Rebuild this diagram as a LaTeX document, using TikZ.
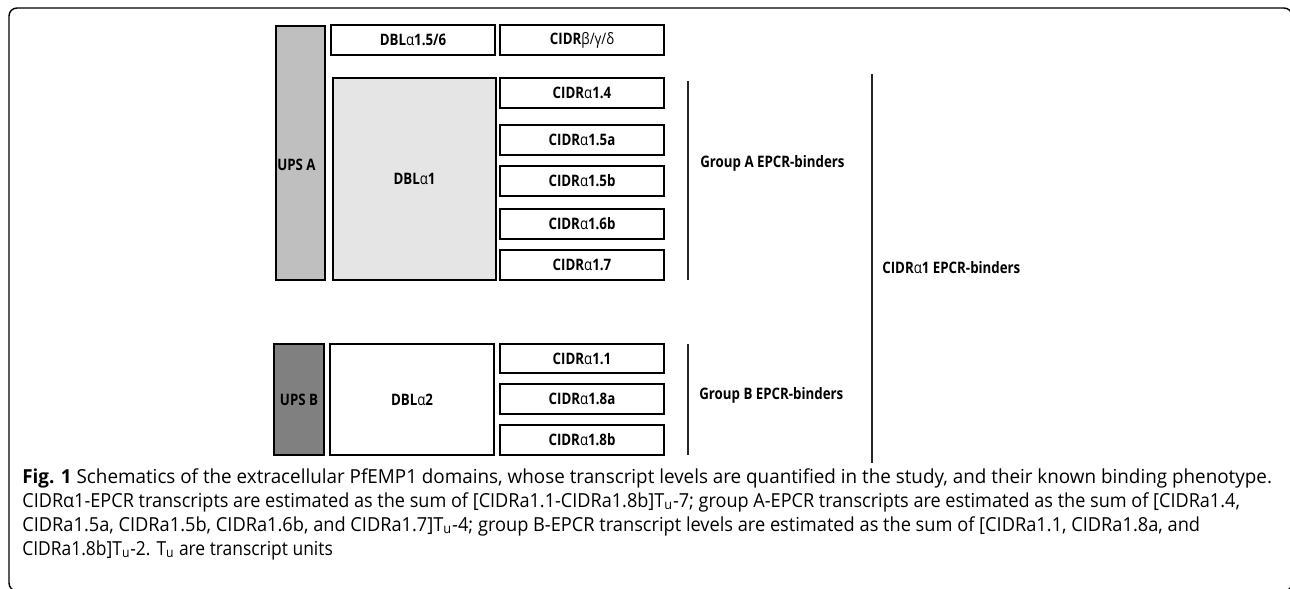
\documentclass[tikz,border=0pt]{standalone}
\usepackage{fontspec}
\setmainfont{Open Sans}
\newfontfamily\lblfont[FakeStretch=0.84]{Open Sans}
\newfontfamily\capfont[FakeStretch=0.975]{Open Sans}
\newcommand{\galpha}{{\mdseries α}}
\newcommand{\gbgd}{{\mdseries β/γ/δ}}
\tikzset{
	dom/.style={draw, line width=1.1pt, minimum width=3.28cm, minimum height=0.6cm, inner sep=0pt, font=\lblfont\fontsize{9}{11}\selectfont\bfseries},
	grp/.style={anchor=west, inner sep=0pt, font=\lblfont\fontsize{9}{11}\selectfont\bfseries},
	bracket/.style={line width=1.1pt, draw=black!85},
	capline/.style={anchor=base west, inner sep=0pt, font=\capfont\fontsize{11}{13}\selectfont}
}
\begin{document}
\begin{tikzpicture}[x=0.02cm, y=-0.02cm]
	\useasboundingbox (0,0) rectangle (1290,588);
	\draw[line width=0.8pt, rounded corners=0.16cm] (9,8) rectangle (1292,591);
	\coordinate (gAtop) at (688,81);
	\coordinate (gAbot) at (688,280);
	\coordinate (gBtop) at (688,344);
	\coordinate (gBbot) at (688,455);
	\coordinate (alltop) at (872,74);
	\coordinate (allbot) at (872,463);
	% group A
	\node[dom, fill=gray!50, minimum width=0.98cm, minimum height=5.08cm] (upsA) at (300.5,153) {};
	\node[grp] (upsAlabel) at (277,165) {UPS A};
	\node[dom] (dbl156) at (413,40) {DBL\galpha1.5/6};
	\node[dom] (cidrbgd) at (582,40) {CIDR\gbgd};
	\node[dom, fill=gray!20, minimum width=3.26cm, minimum height=4.04cm] (dblA) at (414.5,179) {DBL\galpha1};
	\node[dom] (cidr14) at (582,93) {CIDR\galpha1.4};
	\node[dom] (cidr15a) at (582,140) {CIDR\galpha1.5a};
	\node[dom] (cidr15b) at (582,181) {CIDR\galpha1.5b};
	\node[dom] (cidr16b) at (582,224) {CIDR\galpha1.6b};
	\node[dom] (cidr17) at (582,265) {CIDR\galpha1.7};
	% group B
	\node[dom, fill=gray, minimum width=1.0cm, minimum height=2.22cm] (upsB) at (299,399.5) {UPS B};
	\node[dom, minimum height=2.22cm] (dblB) at (412,399.5) {DBL\galpha2};
	\node[dom, minimum height=0.58cm] (cidr11) at (582,358.5) {CIDR\galpha1.1};
	\node[dom] (cidr18a) at (582,399) {CIDR\galpha1.8a};
	\node[dom] (cidr18b) at (582,440) {CIDR\galpha1.8b};
	% binders
	\draw[bracket] (gAtop) -- (gAbot);
	\draw[bracket] (gBtop) -- (gBbot);
	\draw[bracket] (alltop) -- (allbot);
	\node[grp] (grpA) at (700,163) {Group A EPCR-binders};
	\node[grp] (grpB) at (699,395) {Group B EPCR-binders};
	\node[grp] (grpall) at (882,268) {CIDR\galpha1 EPCR-binders};
	% caption
	\node[capline] (cap1) at (22,483) {\textbf{Fig. 1} Schematics of the extracellular PfEMP1 domains, whose transcript levels are quantified in the study, and their known binding phenotype.};
	\node[capline] (cap2) at (22,507) {\scalebox{0.96}[1]{CIDRα1-EPCR transcripts are estimated as the sum of [CIDRa1.1-CIDRa1.8b]T\textsubscript{u}-7; group A-EPCR transcripts are estimated as the sum of [CIDRa1.4,}};
	\node[capline] (cap3) at (22,531) {\scalebox{0.967}[1]{CIDRa1.5a, CIDRa1.5b, CIDRa1.6b, and CIDRa1.7]T\textsubscript{u}-4; group B-EPCR transcript levels are estimated as the sum of [CIDRa1.1, CIDRa1.8a, and}};
	\node[capline] (cap4) at (22,555) {\scalebox{0.925}[1]{CIDRa1.8b]T\textsubscript{u}-2. T\textsubscript{u} are transcript units}};
\end{tikzpicture}
\end{document}
